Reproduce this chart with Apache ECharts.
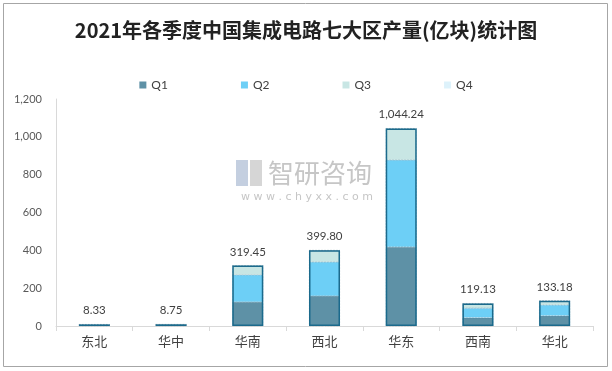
<!DOCTYPE html>
<html><head><meta charset="utf-8">
<script src="https://cdn.jsdelivr.net/npm/echarts@6/dist/echarts.min.js"></script>
<style>html,body{margin:0;padding:0;background:#fff}#c{width:612px;height:371px}</style>
</head><body><div id="c"></div>
<script>
const categories = ['东北','华中','华南','西北','华东','西南','华北'];
const q1 = [2.8, 2.9, 127, 159, 418, 44, 54];
const q2 = [2.9, 3.0, 143, 179, 459, 50, 57];
const q3 = [2.63, 2.85, 49.45, 61.8, 167.24, 25.13, 22.18];
const q4 = [0, 0, 0, 0, 0, 0, 0];
const totals = [8.33, 8.75, 319.45, 399.80, 1044.24, 119.13, 133.18];
const seriesNames = ['Q1','Q2','Q3','Q4'];
const colors = ['#5e91a6','#6dcff6','#c8e6e4','#ddf2fb'];

const chart = echarts.init(document.getElementById('c'), null, {renderer:'canvas'});
const numFont = 'Lato, "Noto Sans CJK SC", sans-serif';
const fmt = v => v.toLocaleString('en-US', {minimumFractionDigits:2, maximumFractionDigits:2});
const stackSeries = [q1,q2,q3,q4].map((d,i)=>({
  name: seriesNames[i], type:'bar', stack:'s', data:d, barWidth:31,
  itemStyle:{color:colors[i], borderColor:'rgba(40,90,120,0.35)', borderWidth:0.5, borderType:'dashed'}
}));
chart.setOption({
  animation:false,
  title:{text:'2021年各季度中国集成电路七大区产量(亿块)统计图', left:'center', top:15,
    textStyle:{fontFamily:'"Noto Sans CJK SC", serif', fontSize:20, fontWeight:'bold', color:'#222'}},
  legend:{data:seriesNames, left:'center', top:74, itemWidth:7, itemHeight:7, itemGap:73, icon:'rect',
    itemStyle:{borderWidth:0},
    textStyle:{fontFamily:numFont, fontSize:12, color:'#404040'}},
  grid:{left:56, right:19, top:99, bottom:45},
  xAxis:{type:'category', data:categories,
    axisLine:{lineStyle:{color:'#d9d9d9'}},
    axisTick:{show:true, length:5, lineStyle:{color:'#d9d9d9'}},
    axisLabel:{fontFamily:'"Noto Sans CJK SC", sans-serif', fontSize:13, color:'#404040', margin:9}},
  yAxis:{type:'value', min:0, max:1200, interval:200,
    axisLine:{show:true, lineStyle:{color:'#d9d9d9'}},
    splitLine:{show:false},
    axisLabel:{fontFamily:numFont, fontSize:11, color:'#595959', margin:14,
      formatter:v=>v.toLocaleString('en-US')}},
  series:[...stackSeries, {
    name:'total', type:'bar', data:totals, barWidth:31, barGap:'-100%', z:5,
    itemStyle:{color:'rgba(0,0,0,0)', borderColor:'#1b6a8c', borderWidth:1.5},
    label:{show:true, position:'top', distance:8, formatter:p=>fmt(p.value),
      fontFamily:numFont, fontSize:11.5, color:'#404040'},
    tooltip:{show:false}
  }],
  graphic:[
    {type:'rect', shape:{x:3.5,y:3.5,width:604,height:363}, style:{fill:'none', stroke:'#a6a6a6', lineWidth:1}, silent:true, z:-1},
    {type:'group', left:236, top:160, z:0, silent:true, children:[
      {type:'rect', shape:{x:0,y:0,width:12,height:26}, style:{fill:'#c4cfe0'}},
      {type:'rect', shape:{x:14,y:0,width:12,height:26}, style:{fill:'#d6d6d6'}},
      {type:'text', style:{x:32, y:0, text:'智研咨询', font:'26px "Noto Sans CJK SC"', fill:'#c6c6c6'}},
      {type:'text', style:{x:5, y:32, text:'w w w . c h y x x . c o m', font:'11px "DejaVu Sans"', fill:'#c6c6c6'}}
    ]}
  ]
});
</script></body></html>
